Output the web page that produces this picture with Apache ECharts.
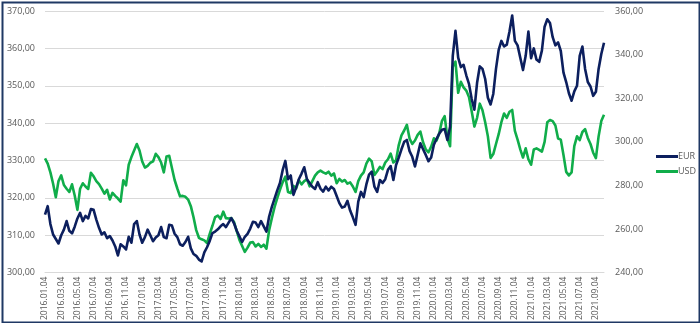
<!DOCTYPE html>
<html>
<head>
<meta charset="utf-8">
<script src="https://cdn.jsdelivr.net/npm/echarts@6/dist/echarts.min.js"></script>
<style>
html,body{margin:0;padding:0;background:#fff;}
#c{width:700px;height:323px;}
</style>
</head>
<body>
<div id="c"></div>
<script>
// Category dates: 3 sample dates per month (04, 14, 24), 2016.01.04 .. 2021.10.04
const startYear = 2016, startMonth = 1, monthCount = 70;
const sampleDays = ['04', '14', '24'];
const categories = [];
for (let i = 0; i < monthCount; i++) {
  const y = startYear + Math.floor((startMonth - 1 + i) / 12);
  const m = ((startMonth - 1 + i) % 12) + 1;
  for (const d of sampleDays) {
    const s = y + '.' + String(m).padStart(2, '0') + '.' + d;
    if (s <= '2021.10.04') categories.push(s);
  }
}

const eurValues = [
  315.5, 317.8, 313.0,  310.2, 309.0, 307.8,  310.0, 311.5, 313.8,  311.2, 310.5, 312.3,
  314.5, 316.0, 313.8,  315.2, 314.5, 317.0,  316.8, 314.2, 312.0,  310.2, 310.8, 309.2,
  309.8, 308.6, 307.0,  304.6, 307.6, 307.0,  306.2, 309.6, 308.0,  313.0, 313.8, 310.2,
  308.0, 309.5, 311.5,  310.0, 308.4, 309.4,  310.0, 312.2, 309.5,  309.2, 312.8, 312.6,
  310.4, 309.5, 307.6,  307.2, 308.2, 309.6,  306.5, 305.0, 304.5,  303.5, 303.0, 305.4,
  306.8, 308.5, 310.6,  311.0, 311.6, 312.4,  313.0, 312.2, 313.4,  314.6, 313.2, 311.2,
  309.7, 308.2, 309.6,  310.4, 311.8, 313.6,  313.4, 312.2, 313.8,  312.4, 311.0, 315.0,
  317.6, 319.8, 322.0,  324.0, 327.4, 329.9,  325.0, 326.0, 320.8,  322.8, 325.0, 326.5,
  328.2, 325.0, 324.0,  323.0, 322.4, 324.2,  322.5, 321.7, 323.0,  322.0, 323.0, 322.4,
  320.5, 318.6, 317.4,  317.7, 319.2, 316.6,  314.8, 312.8, 319.0,  321.6, 320.2, 323.6,
  326.2, 327.0, 323.0,  321.6, 324.8, 324.0,  325.0, 327.5, 328.5,  324.8, 328.8, 330.8,
  333.0, 335.0, 335.5,  332.5, 331.0, 328.4,  331.5, 334.6, 333.0,  331.5, 329.8, 330.8,
  334.2, 335.8, 337.2,  338.2, 338.4, 335.5,  339.0, 358.0, 364.7,  357.5, 355.0, 355.6,
  352.8, 350.5, 346.5,  343.6, 350.8, 355.2,  354.5, 351.8, 346.8,  345.0, 347.8, 354.5,
  359.6, 362.0, 360.5,  361.0, 364.5, 368.8,  362.0, 360.8, 357.5,  354.2, 358.0, 364.5,
  357.4, 360.0, 357.0,  356.4, 359.4, 365.8,  367.8, 366.8, 363.0,  360.8, 361.6, 359.3,
  353.5, 351.0, 348.0,  346.0, 348.5, 350.0,  358.0, 360.5, 354.5,  351.0, 349.8, 347.3,
  348.4, 354.5, 358.5,  361.5
];

const usdValues = [
  292.4, 290.0, 286.0,  280.8, 274.6, 282.0,  284.6, 280.2, 278.5,  277.0, 280.5, 275.4,
  268.8, 278.5, 281.0,  279.5, 278.4, 285.8,  284.2, 282.0, 280.6,  278.5, 276.2, 278.0,
  273.6, 276.6, 275.2,  274.0, 272.6, 282.4,  280.0, 289.5, 293.0,  296.0, 299.0, 296.0,
  291.0, 288.2, 289.0,  290.4, 291.0, 294.5,  293.0, 290.5, 286.0,  293.3, 293.6, 288.0,
  282.5, 278.6, 275.0,  275.2, 274.8, 273.5,  270.5, 265.4, 259.5,  256.0, 255.3, 254.8,
  253.6, 257.8, 261.5,  265.5, 266.2, 264.6,  268.0, 265.0, 264.8,  265.0, 263.2, 259.0,
  255.0, 252.2, 249.5,  251.5, 253.8, 254.0,  252.0, 253.2, 251.8,  252.8, 251.0, 259.5,
  265.0, 270.0, 274.2,  278.0, 281.4, 284.0,  277.0, 276.5, 279.8,  278.6, 282.4, 280.5,
  282.0, 282.8, 279.6,  282.0, 284.5, 286.0,  286.8, 286.0, 285.4,  286.3, 284.5, 285.5,
  281.0, 283.0, 281.8,  282.5, 280.8, 281.4,  279.5, 277.0, 282.0,  284.5, 286.0, 290.0,
  292.3, 291.0, 284.8,  286.5, 288.5, 287.5,  290.5, 292.0, 294.6,  290.5, 291.6, 298.5,
  303.0, 305.2, 307.8,  301.5, 299.0, 300.6,  303.2, 304.7, 299.8,  296.5, 295.2, 297.8,
  301.6, 300.6, 304.0,  309.6, 311.8, 301.7,  298.0, 334.5, 336.8,  322.5, 327.5, 325.0,
  323.5, 320.5, 314.0,  307.0, 311.0, 317.5,  314.5, 309.0, 302.5,  292.6, 294.4, 299.0,
  303.5, 309.0, 313.0,  311.0, 313.8, 314.6,  305.0, 301.0, 296.5,  292.8, 297.0, 292.0,
  289.5, 296.5, 297.0,  296.3, 295.5, 300.0,  309.0, 310.0, 309.5,  307.5, 301.5, 301.0,
  294.0, 286.2, 284.6,  286.0, 298.0, 302.5,  300.8, 304.5, 305.8,  301.8, 299.0, 295.0,
  292.5, 302.5, 309.5,  312.4
];

const seriesNames = ['EUR', 'USD'];
const leftAxisRange = [300, 370, 10];
const rightAxisRange = [240, 360, 20];

const fmt = v => v.toFixed(2).replace('.', ',');
const labelColor = '#595959';
const fontFamily = '"Open Sans", "Liberation Sans", sans-serif';

const chart = echarts.init(document.getElementById('c'), null, {renderer: 'canvas'});
chart.setOption({
  animation: false,
  backgroundColor: '#ffffff',
  grid: {left: 45, right: 96, top: 11, bottom: 50, containLabel: false},
  legend: {
    orient: 'vertical',
    left: 651, top: 147,
    itemWidth: 22, itemHeight: 3, itemGap: 6,
    icon: 'rect',
    textStyle: {color: labelColor, fontSize: 9, fontFamily: fontFamily, padding: [0, 0, 0, -5]},
    data: seriesNames
  },
  xAxis: {
    type: 'category',
    data: categories,
    boundaryGap: false,
    axisLine: {show: true, lineStyle: {color: '#d9d9d9', width: 1}},
    axisTick: {show: false},
    axisLabel: {
      rotate: 90,
      margin: 4,
      color: labelColor,
      fontSize: 8.5,
      fontFamily: fontFamily,
      interval: function (idx, val) { return idx % 6 === 0 && val.endsWith('.04'); }
    },
    splitLine: {show: false}
  },
  yAxis: [
    {
      type: 'value', position: 'left',
      min: leftAxisRange[0], max: leftAxisRange[1], interval: leftAxisRange[2],
      axisLine: {show: false}, axisTick: {show: false},
      axisLabel: {formatter: fmt, color: labelColor, fontSize: 9, fontFamily: fontFamily, margin: 10},
      splitLine: {show: true, lineStyle: {color: '#d9d9d9', width: 1}}
    },
    {
      type: 'value', position: 'right',
      min: rightAxisRange[0], max: rightAxisRange[1], interval: rightAxisRange[2],
      axisLine: {show: false}, axisTick: {show: false},
      axisLabel: {formatter: fmt, color: labelColor, fontSize: 9, fontFamily: fontFamily, margin: 11},
      splitLine: {show: false}
    }
  ],
  series: [
    {
      name: seriesNames[0], type: 'line', yAxisIndex: 0, data: eurValues,
      showSymbol: false, symbol: 'none',
      lineStyle: {color: '#0c1f5e', width: 2.6, join: 'round'},
      itemStyle: {color: '#0c1f5e'}, z: 3
    },
    {
      name: seriesNames[1], type: 'line', yAxisIndex: 1, data: usdValues,
      showSymbol: false, symbol: 'none',
      lineStyle: {color: '#10ad4a', width: 2.6, join: 'round'},
      itemStyle: {color: '#10ad4a'}, z: 2
    }
  ],
  graphic: [{
    type: 'rect', left: 0, top: 0, z: 100,
    shape: {x: 1, y: 1, width: 697, height: 320},
    style: {fill: 'none', stroke: '#1f3864', lineWidth: 2}
  }]
});
</script>
</body>
</html>
